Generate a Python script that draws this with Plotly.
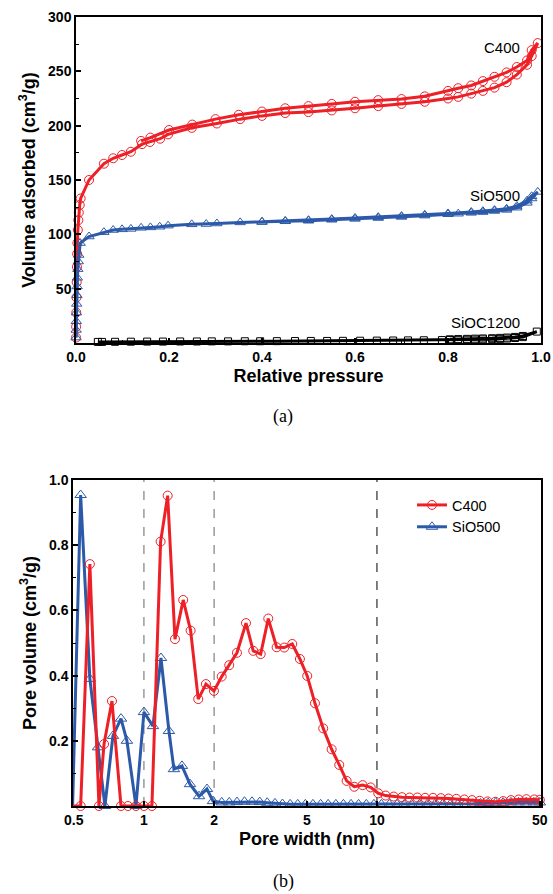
import plotly.graph_objects as go

# ---------------- (a) N2 isotherms ----------------
c400_p = [0.0001, 0.0003, 0.0006, 0.001, 0.0015, 0.002, 0.0025, 0.003, 0.004, 0.005, 0.006, 0.008, 0.010,
          0.028, 0.060, 0.080, 0.099, 0.118, 0.142, 0.159, 0.181, 0.198, 0.249, 0.303, 0.353, 0.40,
          0.45, 0.50, 0.55, 0.60, 0.65, 0.70, 0.75, 0.80, 0.822, 0.85, 0.875, 0.90, 0.926, 0.948, 0.97, 0.98, 0.993,
          0.98, 0.97, 0.948, 0.926, 0.90, 0.875, 0.85, 0.822, 0.80, 0.75, 0.70, 0.65, 0.60, 0.55, 0.50, 0.45,
          0.40, 0.35, 0.30, 0.25, 0.20, 0.16, 0.14]
c400_v = [5, 15, 28, 42, 56, 70, 82, 92, 104, 113, 120, 127, 133,
          150, 165, 170, 173, 176, 183, 185, 188, 192, 198, 202, 206, 209,
          211.6, 212.5, 214, 216, 218, 220, 222, 225, 226.5, 229.5, 232, 235, 240, 247, 256, 264, 276,
          269.5, 260, 254, 249, 245, 241, 237, 234.5, 232, 227, 224.5, 223.5, 222, 220, 218, 216,
          213, 210, 206, 201, 196, 189, 186]

sio500_p = [0.0001, 0.0003, 0.0006, 0.001, 0.0015, 0.002, 0.0025, 0.003, 0.004, 0.005, 0.006, 0.009,
            0.028, 0.060, 0.080, 0.099, 0.118, 0.140, 0.160, 0.180, 0.198, 0.249, 0.280, 0.303, 0.353, 0.40,
            0.45, 0.50, 0.55, 0.60, 0.65, 0.70, 0.75, 0.80, 0.822, 0.85, 0.875, 0.90, 0.926, 0.948, 0.97, 0.98, 0.993,
            0.98, 0.97, 0.948, 0.926, 0.90, 0.875, 0.85, 0.80, 0.75, 0.70, 0.65, 0.60, 0.55, 0.50, 0.45, 0.40]
sio500_v = [5, 12, 20, 28, 36, 44, 52, 60, 68, 75, 81, 92,
            98, 102, 104, 104.6, 105, 106, 106.4, 107, 108, 109.2, 109.5, 110, 111, 111.3,
            112, 112.5, 113.4, 114.2, 115, 116, 117.2, 118.5, 119, 119.8, 120.5, 121.5, 122.5, 124.5, 129, 133, 139,
            135, 131, 126, 123.5, 122.3, 121.3, 120.5, 119.2, 118, 116.8, 115.8, 115, 114, 113, 112.3, 111.6]

sioc_p = [0.047, 0.056, 0.084, 0.118, 0.153, 0.187, 0.224, 0.260, 0.292, 0.327, 0.363, 0.396, 0.432, 0.471,
          0.505, 0.540, 0.574, 0.611, 0.647, 0.682, 0.714, 0.748, 0.787, 0.804, 0.822, 0.841, 0.858, 0.875,
          0.895, 0.912, 0.927, 0.944, 0.961, 0.991,
          0.961, 0.944, 0.927, 0.912, 0.895, 0.875, 0.858, 0.841, 0.822, 0.804]
sioc_v = [1.0, 1.0, 1.1, 1.2, 1.3, 1.3, 1.4, 1.4, 1.5, 1.5, 1.6, 1.6, 1.7, 1.8,
          1.9, 1.9, 2.0, 2.1, 2.2, 2.3, 2.4, 2.5, 2.7, 2.8, 2.9, 3.0, 3.1, 3.3,
          3.5, 3.8, 4.1, 4.6, 5.4, 10.5,
          6.5, 5.6, 5.0, 4.7, 4.4, 4.2, 4.0, 3.8, 3.6, 3.4]

iso_labels = ["C400", "SiO500", "SiOC1200"]
iso_label_pos = [(0.959, 272), (0.959, 136), (0.959, 18.5)]

# ---------------- (b) pore size distribution ----------------
c400_w = [0.494, 0.535, 0.586, 0.641, 0.674, 0.729, 0.797, 0.854, 0.924, 1.0, 1.082, 1.179, 1.264, 1.359,
          1.474, 1.586, 1.710, 1.845, 1.997, 2.156, 2.323, 2.507, 2.741, 2.945, 3.169, 3.416, 3.711, 4.0,
          4.33, 4.67, 5.02, 5.42, 5.88, 6.39, 6.89, 7.41, 7.99, 8.68, 9.40, 10.13, 10.9, 11.8, 12.8, 13.8,
          14.9, 16.1, 17.4, 18.8, 20.3, 21.9, 23.7, 25.6, 27.6, 29.8, 32.2, 34.8, 37.6, 40.6, 43.8, 47.3, 50.0]
c400_pv = [0, 0, 0.742, 0, 0.19, 0.322, 0, 0, 0, 0, 0, 0.811, 0.952, 0.512,
           0.632, 0.538, 0.328, 0.374, 0.353, 0.397, 0.432, 0.470, 0.561, 0.476, 0.466, 0.575, 0.487, 0.486,
           0.497, 0.451, 0.399, 0.315, 0.238, 0.174, 0.126, 0.077, 0.059, 0.064, 0.057, 0.039, 0.032, 0.029, 0.027, 0.026,
           0.026, 0.025, 0.025, 0.024, 0.023, 0.022, 0.020, 0.018, 0.016, 0.014, 0.013, 0.015, 0.018, 0.020, 0.021, 0.020, 0.019]

sio500_w = [0.458, 0.494, 0.535, 0.586, 0.635, 0.680, 0.736, 0.797, 0.845, 0.924, 1.0, 1.093, 1.183, 1.280,
            1.345, 1.456, 1.576, 1.723, 1.864, 1.978, 2.156, 2.323, 2.507, 2.70, 2.91, 3.14, 3.38, 3.65,
            3.93, 4.24, 4.57, 4.93, 5.31, 5.73, 6.17, 6.66, 7.18, 7.74, 8.34, 9.0, 9.7, 10.45, 11.3, 12.2,
            13.1, 14.1, 15.2, 16.4, 17.7, 19.1, 20.6, 22.2, 23.9, 25.8, 27.8, 30.0, 32.3, 34.8, 37.6, 40.5,
            43.7, 47.1, 50.0]
sio500_pv = [0, 0, 0.954, 0.39, 0.18, 0, 0.215, 0.268, 0.2, 0, 0.288, 0.245, 0.454, 0.23,
             0.113, 0.123, 0.067, 0.03, 0.052, 0.015, 0.011, 0.011, 0.012, 0.013, 0.013, 0.012, 0.010, 0.008,
             0.006, 0.005, 0.005, 0.005, 0.005, 0.005, 0.005, 0.005, 0.005, 0.005, 0.005, 0.005, 0.005, 0.005, 0.005, 0.005,
             0.005, 0.005, 0.005, 0.005, 0.005, 0.005, 0.005, 0.005, 0.006, 0.007, 0.008, 0.009, 0.010, 0.010, 0.011, 0.011,
             0.011, 0.011, 0.011]

guide_widths = [1, 2, 10]
guide_colors = ["#666666", "#666666", "#000000"]

RED = "#EE2027"
BLUE = "#2C5AA8"
BLACK = "#000000"

fig = go.Figure()

# top panel traces
fig.add_trace(go.Scatter(x=c400_p, y=c400_v, mode="lines+markers", name="C400",
                         line=dict(color=RED, width=3),
                         marker=dict(symbol="circle-open", size=9, color=RED, line=dict(width=1)),
                         cliponaxis=False, showlegend=False, xaxis="x", yaxis="y"))
fig.add_trace(go.Scatter(x=sio500_p, y=sio500_v, mode="lines+markers", name="SiO500",
                         line=dict(color=BLUE, width=3),
                         marker=dict(symbol="triangle-up-open", size=9, color=BLUE, line=dict(width=1)),
                         cliponaxis=False, showlegend=False, xaxis="x", yaxis="y"))
fig.add_trace(go.Scatter(x=sioc_p, y=sioc_v, mode="lines+markers", name="SiOC1200",
                         line=dict(color=BLACK, width=3),
                         marker=dict(symbol="square-open", size=7, color=BLACK, line=dict(width=1)),
                         cliponaxis=False, showlegend=False, xaxis="x", yaxis="y"))

# bottom panel guide lines
for gw, gc in zip(guide_widths, guide_colors):
    fig.add_trace(go.Scatter(x=[gw, gw], y=[0, 1], mode="lines", showlegend=False, hoverinfo="skip",
                             line=dict(color=gc, width=1, dash="dash"), xaxis="x2", yaxis="y2"))

fig.add_trace(go.Scatter(x=sio500_w, y=sio500_pv, mode="lines+markers", name="SiO500",
                         line=dict(color=BLUE, width=3),
                         marker=dict(symbol="triangle-up-open", size=10, color=BLUE, line=dict(width=1)),
                         cliponaxis=False, legendrank=2, xaxis="x2", yaxis="y2"))
fig.add_trace(go.Scatter(x=c400_w, y=c400_pv, mode="lines+markers", name="C400",
                         line=dict(color=RED, width=3),
                         marker=dict(symbol="circle-open", size=9, color=RED, line=dict(width=1)),
                         cliponaxis=False, legendrank=1, xaxis="x2", yaxis="y2"))

W, H = 553, 894
tickf = dict(family="Liberation Sans, Arial", size=14, color="black", weight="bold")
titf = dict(family="Liberation Sans, Arial", size=18, color="black", weight="bold")
axcommon = dict(showline=True, linecolor="black", linewidth=1.5, mirror=True, ticks="inside",
                ticklen=5, tickwidth=1.5, tickcolor="black", showgrid=False, zeroline=False,
                tickfont=tickf, automargin=False)

fig.update_layout(
    width=W, height=H, plot_bgcolor="white", paper_bgcolor="white",
    margin=dict(l=0, r=0, t=0, b=0, autoexpand=False),
    xaxis=dict(domain=[76 / W, 541 / W], anchor="y", range=[0, 1],
               tickvals=[0, 0.2, 0.4, 0.6, 0.8, 1.0], ticktext=["0.0", "0.2", "0.4", "0.6", "0.8", "1.0"],
               minor=dict(ticks="inside", ticklen=3, tickwidth=1.2, tickcolor="black", dtick=0.1),
               title=dict(text="Relative pressure", font=titf, standoff=6), **axcommon),
    yaxis=dict(domain=[1 - 343 / H, 1 - 17 / H], anchor="x", range=[0, 300],
               tickvals=[50, 100, 150, 200, 250, 300],
               minor=dict(ticks="inside", ticklen=3, tickwidth=1.2, tickcolor="black", tick0=0, dtick=25),
               title=dict(text="Volume adsorbed (cm<sup>3</sup>/g)", font=titf, standoff=8), **axcommon),
    xaxis2=dict(domain=[73 / W, 541 / W], anchor="y2", type="log",
                range=[-0.3045, 1.704],
                tickvals=[0.5, 1, 2, 5, 10, 50], ticktext=["0.5", "1", "2", "5", "10", "50"],
                title=dict(text="Pore width (nm)", font=titf, standoff=6), **axcommon),
    yaxis2=dict(domain=[1 - 806 / H, 1 - 480 / H], anchor="x2", range=[0, 1.0],
                tickvals=[0.2, 0.4, 0.6, 0.8, 1.0], ticktext=["0.2", "0.4", "0.6", "0.8", "1.0"],
                minor=dict(ticks="inside", ticklen=3, tickwidth=1.2, tickcolor="black", tick0=0, dtick=0.1),
                title=dict(text="Pore volume (cm<sup>3</sup>/g)", font=titf, standoff=8), **axcommon),
    legend=dict(x=412 / W, y=1 - 489 / H, xanchor="left", yanchor="top",
                font=dict(family="Liberation Sans, Arial", size=14.5, color="black"),
                bgcolor="rgba(0,0,0,0)", tracegroupgap=0, borderwidth=0),
    showlegend=True,
)

for lab, (lx, ly) in zip(iso_labels, iso_label_pos):
    fig.add_annotation(x=lx, y=ly, xref="x", yref="y", text=lab, showarrow=False,
                       xanchor="right", yanchor="middle",
                       font=dict(family="Liberation Sans, Arial", size=15, color="black"))

fig.add_annotation(x=283 / W, y=1 - 417 / H, xref="paper", yref="paper", text="(a)", showarrow=False,
                   xanchor="center", yanchor="middle",
                   font=dict(family="Liberation Serif, Times New Roman", size=18, color="black"))
fig.add_annotation(x=283 / W, y=1 - 881 / H, xref="paper", yref="paper", text="(b)", showarrow=False,
                   xanchor="center", yanchor="middle",
                   font=dict(family="Liberation Serif, Times New Roman", size=18, color="black"))

fig.write_html("out.html", config={"displayModeBar": False},
               post_script="document.body.style.margin='0';document.body.style.padding='0';"
                           "document.documentElement.style.overflow='hidden';")
